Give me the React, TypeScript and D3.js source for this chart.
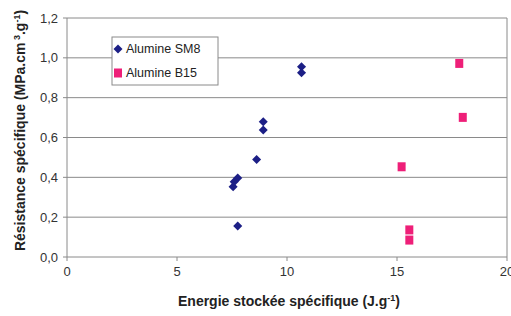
import React from 'react';
import * as d3 from 'd3';

// Specific strength vs specific stored energy, two alumina grades.

const SM8_ENERGY = [7.55, 7.6, 7.76, 7.76, 8.62, 8.92, 8.92, 10.66, 10.66];
const SM8_RESIST = [0.353, 0.378, 0.397, 0.156, 0.49, 0.679, 0.638, 0.955, 0.925];

const B15_ENERGY = [17.83, 17.99, 15.21, 15.56, 15.56];
const B15_RESIST = [0.972, 0.701, 0.453, 0.136, 0.085];

const X_TICKS = [0, 5, 10, 15, 20];
const Y_TICKS = [0, 0.2, 0.4, 0.6, 0.8, 1.0, 1.2];

const SERIES_NAMES = ['Alumine SM8', 'Alumine B15'];

const W = 511;
const H = 316;
const M = { left: 67, right: 4, top: 18, bottom: 59 };

const NAVY = '#1c1f86';
const PINK = '#ee1f78';
const GRID = '#8a8a8a';
const FONT = 'Liberation Sans, Arial, sans-serif';

export default function App() {
  const x = d3.scaleLinear().domain([0, 20]).range([M.left, W - M.right]);
  const y = d3.scaleLinear().domain([0, 1.2]).range([H - M.bottom, M.top]);
  const fmt = (v: number) => v.toFixed(1).replace('.', ',');
  const diamond = d3.symbol().type(d3.symbolDiamond2).size(52)();

  const sm8 = SM8_ENERGY.map((e, i) => ({ e, r: SM8_RESIST[i] }));
  const b15 = B15_ENERGY.map((e, i) => ({ e, r: B15_RESIST[i] }));

  return (
    <svg
      width={W}
      height={H}
      style={{ position: 'absolute', left: 0, top: 0, background: '#fff' }}
      fontFamily={FONT}
    >
      {/* grid */}
      {Y_TICKS.map((t) => (
        <g key={`gy-${t}`}>
          <line x1={M.left} x2={W - M.right} y1={y(t)} y2={y(t)} stroke={GRID} strokeWidth={1} />
          <line x1={M.left - 4} x2={M.left} y1={y(t)} y2={y(t)} stroke={GRID} />
          <text x={M.left - 9} y={y(t)} dy="0.35em" textAnchor="end" fontSize={13} fill="#333">
            {fmt(t)}
          </text>
        </g>
      ))}
      <line x1={M.left} x2={M.left} y1={M.top} y2={H - M.bottom} stroke={GRID} />
      <line x1={W - M.right} x2={W - M.right} y1={M.top} y2={H - M.bottom} stroke={GRID} />

      {X_TICKS.map((t) => (
        <g key={`gx-${t}`}>
          <line x1={x(t)} x2={x(t)} y1={H - M.bottom} y2={H - M.bottom + 4} stroke={GRID} />
          <text x={x(t)} y={H - M.bottom + 19} textAnchor="middle" fontSize={13} fill="#333">
            {t}
          </text>
        </g>
      ))}

      {/* points */}
      {sm8.map((d, i) => (
        <path
          key={`sm8-${i}`}
          d={diamond ?? ''}
          transform={`translate(${x(d.e)},${y(d.r)})`}
          fill={NAVY}
        />
      ))}
      {b15.map((d, i) => (
        <rect
          key={`b15-${i}`}
          x={x(d.e) - 4}
          y={y(d.r) - 4.5}
          width={8}
          height={9}
          fill={PINK}
        />
      ))}

      {/* legend */}
      <g>
        <rect x={112} y={37} width={106} height={48} fill="#fff" stroke={GRID} />
        <path d={diamond ?? ''} transform="translate(118,49)" fill={NAVY} />
        <text x={126} y={49} dy="0.35em" fontSize={12.5} fill="#222">
          {SERIES_NAMES[0]}
        </text>
        <rect x={114} y={68.5} width={8} height={9} fill={PINK} />
        <text x={126} y={73} dy="0.35em" fontSize={12.5} fill="#222">
          {SERIES_NAMES[1]}
        </text>
      </g>

      {/* axis titles */}
      <text
        x={289}
        y={306}
        textAnchor="middle"
        fontSize={14}
        fontWeight="bold"
        fill="#222"
      >
        Energie stockée spécifique (J.g<tspan dy={-5} fontSize={9}>-1</tspan>
        <tspan dy={5}>)</tspan>
      </text>
      <text
        transform={`translate(25,${(M.top + H - M.bottom) / 2 - 7}) rotate(-90)`}
        textAnchor="middle"
        fontSize={14}
        fontWeight="bold"
        fill="#222"
      >
        Résistance spécifique (MPa.cm<tspan dy={-5} fontSize={9}> 3</tspan>
        <tspan dy={5}>.g</tspan>
        <tspan dy={-5} fontSize={9}>-1</tspan>
        <tspan dy={5}>)</tspan>
      </text>
    </svg>
  );
}
